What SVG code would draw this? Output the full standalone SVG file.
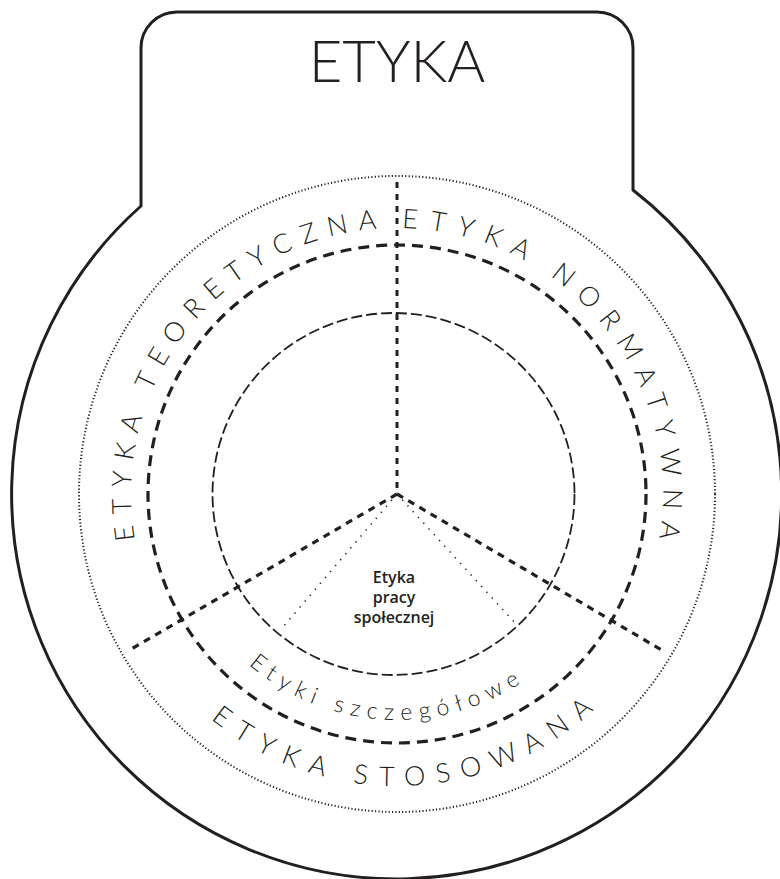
<svg xmlns="http://www.w3.org/2000/svg" width="780" height="879" viewBox="0 0 780 879">
<style>
.outline{fill:#fff;stroke:#231f20;stroke-width:3}
.dotc{fill:none;stroke:#231f20;stroke-width:2;stroke-dasharray:1.2 2.2}
.thick{fill:none;stroke:#231f20;stroke-width:3.2;stroke-dasharray:11 7}
.thin{fill:none;stroke:#231f20;stroke-width:1.8;stroke-dasharray:11 4}
.vdash{fill:none;stroke:#231f20;stroke-width:3;stroke-dasharray:6 6}
.ddash{fill:none;stroke:#231f20;stroke-width:3.2;stroke-dasharray:7 6}
.dotl{fill:none;stroke:#231f20;stroke-width:1.6;stroke-dasharray:1.3 6.5}
.cap{font-family:Lato,"Open Sans","Liberation Sans",sans-serif;font-weight:300;fill:#231f20}
.sub{font-family:Lato,"Open Sans","Liberation Sans",sans-serif;font-weight:300;font-size:23px;fill:#231f20}
.ctr{font-family:"Open Sans","Liberation Sans",sans-serif;font-weight:600;font-size:16px;fill:#231f20;text-anchor:middle}
</style>
<defs>
<path id="pLeft" d="M148.7,589.3 A266,266 0 0 1 438.6,231.3"/>
<path id="pRight" d="M357.7,230.9 A266,266 0 0 1 644.5,591.5"/>
<path id="pBottom" d="M150.7,650.9 A292,292 0 0 0 656,628.8"/>
<path id="pInner" d="M195.6,596.6 A226,226 0 0 0 586.5,617.1"/>
</defs>
<g id="outline">
<path class="outline" d="M141,206 L141,48 A36,36 0 0 1 177,12 L597,12 A36,36 0 0 1 633,48 L633,190 A385,385 0 1 1 141,206 Z"/>
</g>
<g id="title">
<text class="cap" x="397" y="82" font-size="58" text-anchor="middle">ETYKA</text>
</g>
<g id="rings">
<circle class="dotc" cx="397" cy="494" r="318"/>
<circle class="thick" cx="397" cy="494" r="249"/>
<circle class="thin" cx="393.5" cy="494" r="181"/>
</g>
<g id="connectors">
<line class="vdash" x1="397" y1="182" x2="397" y2="494"/>
<line class="ddash" x1="397" y1="494" x2="128" y2="651"/>
<line class="ddash" x1="397" y1="494" x2="665" y2="652"/>
<line class="dotl" x1="397" y1="494" x2="283" y2="627"/>
<line class="dotl" x1="397" y1="494" x2="515" y2="623"/>
</g>
<g id="etyka-teoretyczna">
<text class="cap" font-size="27" letter-spacing="10.5"><textPath href="#pLeft" startOffset="50%" text-anchor="middle">ETYKA TEORETYCZNA</textPath></text>
</g>
<g id="etyka-normatywna">
<text class="cap" font-size="27" letter-spacing="11.5"><textPath href="#pRight" startOffset="50%" text-anchor="middle">ETYKA NORMATYWNA</textPath></text>
</g>
<g id="etyka-stosowana">
<text class="cap" font-size="27" letter-spacing="11.5"><textPath href="#pBottom" startOffset="50%" text-anchor="middle">ETYKA STOSOWANA</textPath></text>
</g>
<g id="etyki-szczegolowe">
<text class="sub" letter-spacing="7"><textPath href="#pInner" startOffset="50%" text-anchor="middle">Etyki szczegółowe</textPath></text>
</g>
<g id="etyka-pracy-spolecznej">
<text class="ctr" x="394" y="583">Etyka</text>
<text class="ctr" x="394" y="603">pracy</text>
<text class="ctr" x="394" y="623">społecznej</text>
</g>
</svg>
